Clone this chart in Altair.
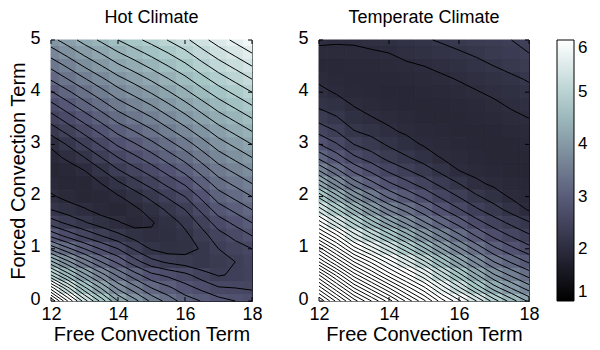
import altair as alt
import pandas as pd
import numpy as np

# ---------------- data ----------------
x_values = [12, 12.5, 13, 13.5, 14, 14.5, 15, 15.5, 16, 16.5, 17, 17.5, 18]
y_values = [5.0, 4.75, 4.5, 4.25, 4.0, 3.75, 3.5, 3.25, 3.0, 2.75, 2.5, 2.25,
            2.0, 1.75, 1.5, 1.25, 1.0, 0.75, 0.5, 0.25, 0.0]

# one row per y value (top to bottom), one entry per x value (left to right)
hot_rows = [
    [3.93, 4.10, 4.28, 4.44, 4.60, 4.74, 4.87, 5.01, 5.15, 5.33, 5.50, 5.65, 5.80],
    [3.69, 3.87, 4.05, 4.21, 4.38, 4.52, 4.66, 4.80, 4.95, 5.13, 5.30, 5.45, 5.60],
    [3.45, 3.63, 3.82, 3.99, 4.16, 4.30, 4.45, 4.60, 4.75, 4.93, 5.10, 5.25, 5.40],
    [3.22, 3.40, 3.58, 3.76, 3.94, 4.08, 4.23, 4.39, 4.55, 4.73, 4.90, 5.05, 5.20],
    [2.98, 3.16, 3.35, 3.53, 3.72, 3.87, 4.02, 4.18, 4.35, 4.53, 4.70, 4.85, 5.00],
    [2.74, 2.93, 3.12, 3.31, 3.50, 3.65, 3.80, 3.97, 4.14, 4.32, 4.50, 4.65, 4.80],
    [2.50, 2.70, 2.89, 3.08, 3.28, 3.43, 3.58, 3.76, 3.93, 4.12, 4.30, 4.45, 4.60],
    [2.27, 2.46, 2.66, 2.85, 3.05, 3.20, 3.36, 3.54, 3.72, 3.91, 4.10, 4.25, 4.40],
    [2.03, 2.22, 2.43, 2.63, 2.83, 2.98, 3.14, 3.32, 3.50, 3.70, 3.90, 4.05, 4.20],
    [1.93, 2.04, 2.20, 2.40, 2.60, 2.76, 2.92, 3.10, 3.28, 3.49, 3.70, 3.85, 4.00],
    [1.86, 1.90, 2.00, 2.18, 2.38, 2.54, 2.70, 2.88, 3.06, 3.28, 3.50, 3.65, 3.80],
    [1.92, 1.88, 1.88, 2.00, 2.16, 2.32, 2.48, 2.66, 2.83, 3.07, 3.30, 3.45, 3.60],
    [2.03, 1.94, 1.87, 1.90, 1.98, 2.10, 2.26, 2.43, 2.60, 2.85, 3.10, 3.25, 3.40],
    [2.20, 2.10, 2.02, 1.92, 1.88, 1.96, 2.08, 2.24, 2.40, 2.65, 2.90, 3.05, 3.20],
    [2.50, 2.35, 2.22, 2.10, 2.02, 1.92, 1.98, 2.10, 2.25, 2.46, 2.70, 2.85, 3.00],
    [2.95, 2.73, 2.55, 2.40, 2.25, 2.12, 2.04, 2.06, 2.15, 2.32, 2.52, 2.66, 2.80],
    [3.55, 3.25, 3.00, 2.78, 2.60, 2.37, 2.18, 2.10, 2.12, 2.22, 2.40, 2.50, 2.60],
    [4.25, 3.85, 3.50, 3.20, 2.95, 2.68, 2.47, 2.36, 2.30, 2.22, 2.30, 2.40, 2.52],
    [5.00, 4.50, 4.05, 3.68, 3.35, 3.08, 2.85, 2.75, 2.65, 2.50, 2.38, 2.43, 2.48],
    [5.90, 5.25, 4.65, 4.18, 3.75, 3.47, 3.20, 3.04, 2.88, 2.75, 2.62, 2.60, 2.57],
    [6.80, 6.00, 5.30, 4.73, 4.20, 3.87, 3.55, 3.32, 3.10, 2.99, 2.88, 2.80, 2.75],
]

temperate_rows = [
    [2.03, 2.02, 2.02, 2.05, 2.08, 2.13, 2.18, 2.22, 2.27, 2.32, 2.36, 2.40, 2.45],
    [1.96, 1.96, 1.97, 1.98, 2.00, 2.05, 2.10, 2.14, 2.18, 2.23, 2.28, 2.34, 2.40],
    [1.90, 1.91, 1.92, 1.93, 1.94, 1.97, 2.00, 2.04, 2.08, 2.14, 2.20, 2.26, 2.32],
    [1.96, 1.92, 1.90, 1.90, 1.90, 1.92, 1.94, 1.97, 2.01, 2.05, 2.10, 2.16, 2.22],
    [2.06, 1.98, 1.93, 1.90, 1.89, 1.89, 1.90, 1.92, 1.95, 1.99, 2.03, 2.08, 2.14],
    [2.16, 2.10, 1.99, 1.94, 1.91, 1.89, 1.88, 1.89, 1.90, 1.93, 1.97, 2.02, 2.07],
    [2.32, 2.22, 2.09, 2.01, 1.96, 1.92, 1.89, 1.88, 1.88, 1.90, 1.92, 1.96, 2.00],
    [2.54, 2.40, 2.21, 2.14, 2.03, 1.97, 1.93, 1.90, 1.88, 1.88, 1.89, 1.92, 1.95],
    [2.81, 2.62, 2.40, 2.29, 2.17, 2.07, 1.98, 1.94, 1.90, 1.88, 1.87, 1.88, 1.90],
    [3.14, 2.90, 2.64, 2.49, 2.33, 2.22, 2.11, 1.99, 1.94, 1.90, 1.88, 1.87, 1.87],
    [3.60, 3.25, 2.95, 2.75, 2.56, 2.42, 2.29, 2.15, 2.00, 1.94, 1.91, 1.88, 1.86],
    [4.15, 3.70, 3.30, 3.06, 2.83, 2.66, 2.50, 2.34, 2.20, 2.04, 1.96, 1.92, 1.87],
    [4.75, 4.28, 3.80, 3.45, 3.15, 2.95, 2.76, 2.56, 2.39, 2.23, 2.10, 1.97, 1.91],
    [5.30, 4.85, 4.38, 3.95, 3.58, 3.32, 3.07, 2.83, 2.62, 2.43, 2.28, 2.13, 1.98],
    [5.90, 5.40, 4.95, 4.50, 4.10, 3.75, 3.43, 3.15, 2.92, 2.68, 2.50, 2.35, 2.22],
    [6.55, 6.05, 5.50, 5.10, 4.70, 4.30, 3.90, 3.55, 3.25, 2.98, 2.75, 2.58, 2.43],
    [7.30, 6.70, 6.10, 5.70, 5.30, 4.88, 4.45, 4.02, 3.65, 3.33, 3.05, 2.85, 2.67],
    [8.00, 7.40, 6.80, 6.35, 5.90, 5.48, 5.05, 4.57, 4.13, 3.74, 3.40, 3.17, 2.97],
    [8.80, 8.15, 7.50, 7.00, 6.50, 6.07, 5.65, 5.15, 4.68, 4.22, 3.82, 3.55, 3.32],
    [9.50, 8.85, 8.20, 7.70, 7.20, 6.70, 6.25, 5.72, 5.25, 4.75, 4.30, 3.98, 3.70],
    [10.20, 9.55, 8.90, 8.40, 7.90, 7.35, 6.85, 6.30, 5.85, 5.40, 4.90, 4.50, 4.15],
]

panel_titles = ["Hot Climate", "Temperate Climate"]
x_title = "Free Convection Term"
y_title = "Forced Convection Term"
x_ticks = [12, 14, 16, 18]
y_ticks = [0, 1, 2, 3, 4, 5]
colorbar_ticks = [1, 2, 3, 4, 5, 6]
contour_levels = [round(1.0 + 0.2 * k, 2) for k in range(48)]

# ---------------- styling ----------------
FONT = "Liberation Sans"
BONE_DOMAIN = [1, 2.8254, 4.7302, 6]
BONE_RANGE = ["#000000", "#515171", "#a6c6c6", "#ffffff"]
HEIGHT = 261
X_DOMAIN = [12, 18]
Y_DOMAIN = [0, 5]


def bone():
    return alt.Scale(domain=BONE_DOMAIN, range=BONE_RANGE, clamp=True, interpolate="rgb")


def cell_table(rows):
    recs = []
    for i, yv in enumerate(y_values):
        for j, xv in enumerate(x_values):
            recs.append(dict(xa=max(X_DOMAIN[0], xv - 0.25), xb=min(X_DOMAIN[1], xv + 0.25),
                             ya=max(Y_DOMAIN[0], yv - 0.125), yb=min(Y_DOMAIN[1], yv + 0.125),
                             v=rows[i][j], vs=rows[i][j]))
    return pd.DataFrame(recs)


def contour_table(rows):
    """Contour lines of the grid (marching squares, as a contour plot does)."""
    Z = np.array(rows)[::-1]
    ys = list(y_values)[::-1]
    xs = list(x_values)
    segs = []
    for i in range(len(ys) - 1):
        for j in range(len(xs) - 1):
            a, b = Z[i, j], Z[i, j + 1]
            c, d = Z[i + 1, j + 1], Z[i + 1, j]
            pa, pb = (xs[j], ys[i]), (xs[j + 1], ys[i])
            pc, pd_ = (xs[j + 1], ys[i + 1]), (xs[j], ys[i + 1])
            edges = [(a, b, pa, pb), (b, c, pb, pc), (c, d, pc, pd_), (d, a, pd_, pa)]
            for L in contour_levels:
                pts = {}
                for k, (v1, v2, p1, p2) in enumerate(edges):
                    if (v1 >= L) != (v2 >= L):
                        t = (L - v1) / (v2 - v1)
                        pts[k] = (p1[0] + t * (p2[0] - p1[0]), p1[1] + t * (p2[1] - p1[1]))
                if len(pts) == 2:
                    p, q = list(pts.values())
                    segs.append((p, q))
                elif len(pts) == 4:
                    centre = (a + b + c + d) / 4
                    if (centre >= L) == (a >= L):
                        pairs = [(0, 1), (2, 3)]
                    else:
                        pairs = [(3, 0), (1, 2)]
                    for k1, k2 in pairs:
                        segs.append((pts[k1], pts[k2]))
    return pd.DataFrame([dict(xa=p[0], ya=p[1], xb=q[0], yb=q[1]) for p, q in segs])


def panel(rows, title, width, show_y_title):
    xscale = alt.Scale(domain=X_DOMAIN, nice=False, zero=False)
    yscale = alt.Scale(domain=Y_DOMAIN, nice=False, zero=False)
    xaxis = alt.Axis(values=x_ticks, title=x_title, labelFlush=False,
                     labelPadding=4, titlePadding=1, format="d")
    yaxis = alt.Axis(values=y_ticks, title=y_title if show_y_title else None,
                     labelFlush=False, labelPadding=11, titlePadding=1, labelOffset=-2,
                     format="d")
    X = lambda f: alt.X(f, type="quantitative", scale=xscale, axis=xaxis)
    Y = lambda f: alt.Y(f, type="quantitative", scale=yscale, axis=yaxis)

    cells = alt.Chart(cell_table(rows)).mark_rect(strokeWidth=1.0).encode(
        x=X("xa"), x2="xb", y=Y("ya"), y2="yb",
        stroke=alt.Stroke("vs:Q", scale=bone(), legend=None),
        color=alt.Color("v:Q", scale=bone(),
                        legend=alt.Legend(title=None, direction="vertical", orient="none",
                                          legendX=506, legendY=0, type="gradient",
                                          gradientLength=HEIGHT, gradientThickness=17,
                                          gradientStrokeColor="black", gradientStrokeWidth=1,
                                          values=colorbar_ticks, labelFontSize=17,
                                          labelFont=FONT, labelColor="black",
                                          labelOffset=4, padding=0)))
    lines = alt.Chart(contour_table(rows)).mark_rule(color="black", strokeWidth=1.0).encode(
        x=X("xa"), x2="xb", y=Y("ya"), y2="yb")

    xt = pd.DataFrame({"xa": x_ticks})
    yt = pd.DataFrame({"ya": y_ticks})
    tick_style = dict(color="black", strokeWidth=1)
    t_bottom = alt.Chart(xt).mark_rule(**tick_style).encode(
        x=X("xa"), y=alt.value(HEIGHT), y2=alt.value(HEIGHT - 4))
    t_top = alt.Chart(xt).mark_rule(**tick_style).encode(
        x=X("xa"), y=alt.value(0), y2=alt.value(4))
    t_left = alt.Chart(yt).mark_rule(**tick_style).encode(
        y=Y("ya"), x=alt.value(0), x2=alt.value(4))
    t_right = alt.Chart(yt).mark_rule(**tick_style).encode(
        y=Y("ya"), x=alt.value(width - 4), x2=alt.value(width))

    return alt.layer(cells, lines, t_bottom, t_top, t_left, t_right).properties(
        width=width, height=HEIGHT,
        title=alt.TitleParams(title, fontSize=18, font=FONT, fontWeight="normal",
                              color="black", offset=2))


hot = panel(hot_rows, panel_titles[0], 201, True)
temp = panel(temperate_rows, panel_titles[1], 210, False)

chart = alt.hconcat(hot, temp, spacing=67, bounds="flush").resolve_scale(
    color="shared", stroke="shared"
).resolve_legend(stroke="independent").properties(padding=0).configure_view(
    stroke="black", strokeWidth=1
).configure_axis(
    ticks=False, domain=False, grid=False,
    labelFont=FONT, labelFontSize=18, labelColor="black",
    titleFont=FONT, titleFontSize=20, titleFontWeight="normal", titleColor="black",
)

chart.save("out.html", embed_options={"renderer": "svg", "actions": False})
